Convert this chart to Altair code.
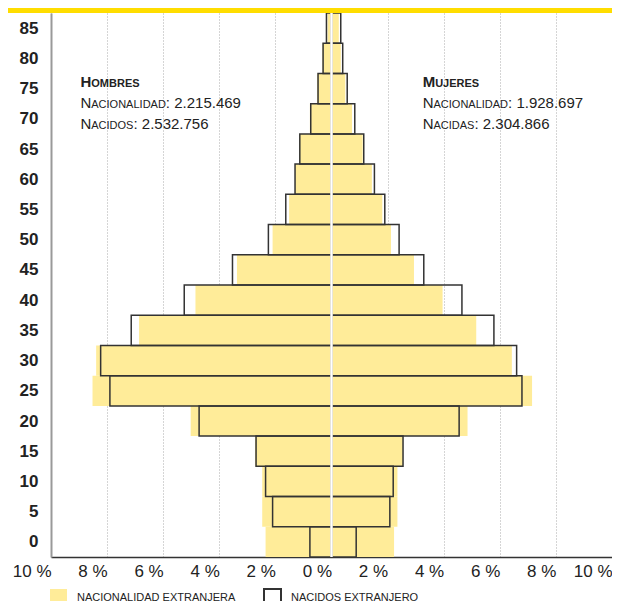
import altair as alt
import pandas as pd

# ---------------- data ----------------
ages = [0, 5, 10, 15, 20, 25, 30, 35, 40, 45, 50, 55, 60, 65, 70, 75, 80, 85]
hombres_nacionalidad = [2.35, 2.47, 2.47, 2.72, 5.02, 8.52, 8.39, 6.86, 4.85, 3.37, 2.10, 1.51, 1.30, 1.15, 0.77, 0.51, 0.32, 0.14]
hombres_nacidos = [0.77, 2.10, 2.35, 2.69, 4.72, 7.90, 8.23, 7.14, 5.25, 3.53, 2.25, 1.63, 1.30, 1.13, 0.74, 0.48, 0.30, 0.18]
mujeres_nacionalidad = [2.23, 2.35, 2.35, 2.55, 4.85, 7.15, 6.43, 5.16, 3.96, 2.94, 2.12, 1.81, 1.44, 1.11, 0.73, 0.49, 0.33, 0.26]
mujeres_nacidas = [0.88, 2.08, 2.20, 2.55, 4.55, 6.79, 6.60, 5.79, 4.65, 3.29, 2.41, 1.90, 1.53, 1.15, 0.83, 0.56, 0.40, 0.33]
series = ["Nacionalidad extranjera", "Nacidos extranjero"]
x_ticks = [-10, -8, -6, -4, -2, 0, 2, 4, 6, 8, 10]

# annotation text (small caps split as: capital, small part, rest)
hombres_text = [("H", "OMBRES", ""), ("N", "ACIONALIDAD", ": 2.215.469"), ("N", "ACIDOS", ": 2.532.756")]
mujeres_text = [("M", "UJERES", ""), ("N", "ACIONALIDAD", ": 1.928.697"), ("N", "ACIDAS", ": 2.304.866")]

# ---------------- layout ----------------
W, H = 561, 544
FONT = "Liberation Sans"
YELLOW = "#FFEC99"
px_per_unit = W / 20.0

rows = []
for i, a in enumerate(ages):
    rows.append(dict(age=a, serie=series[0], x0=-hombres_nacionalidad[i], x1=0))
    rows.append(dict(age=a, serie=series[0], x0=0, x1=mujeres_nacionalidad[i]))
for i, a in enumerate(ages):
    rows.append(dict(age=a, serie=series[1], x0=-hombres_nacidos[i], x1=0))
    rows.append(dict(age=a, serie=series[1], x0=0, x1=mujeres_nacidas[i]))
df = pd.DataFrame(rows)

# Arial/Liberation metrics (per 1000 em) for building small caps
REG = {"H": 722, "O": 778, "M": 833, "B": 667, "R": 722, "E": 667, "S": 667, "N": 722,
       "A": 667, "C": 722, "I": 278, "L": 556, "D": 722, "U": 722, "J": 500,
       ":": 278, " ": 278, ".": 278}
BOLD = dict(REG, B=722, J=556, A=722, L=611)
for d in "0123456789":
    REG[d] = 556
    BOLD[d] = 556


def tw(s, size, bold):
    tab = BOLD if bold else REG
    return sum(tab[c] for c in s) * size / 1000.0


BIG, SMALL = 15, 11
line_y = [75.2, 71.8, 68.3]
ann = []
for x0, block in [(-8.95, hombres_text), (3.25, mujeres_text)]:
    for li, (cap, small, rest) in enumerate(block):
        bold = li == 0
        off = 0.0
        for txt, sz in [(cap, BIG), (small, SMALL), (rest, BIG)]:
            if txt:
                ann.append(dict(x=x0 + off / px_per_unit, y=line_y[li], t=txt, s=sz,
                                w="bold" if bold else "normal"))
                off += tw(txt, sz, bold)
ann = pd.DataFrame(ann)

xscale = alt.Scale(domain=[-10, 10], nice=False, zero=False)
yscale = alt.Scale(domain=[-2.5, 87.5], nice=False, zero=False)

xaxis = alt.Axis(values=x_ticks, labelExpr="abs(datum.value) + ' %'",
                 labelAlign="right", labelFlush=False, labelOverlap=False,
                 labelFontSize=17, labelColor="#222", labelPadding=6,
                 ticks=False, domainColor="#333", domainWidth=1.5,
                 grid=True, gridDash=[1, 2], gridColor="#aaa", gridWidth=1,
                 title=None)
yaxis = alt.Axis(values=ages, labelFontSize=17, labelFontWeight="bold",
                 labelColor="#222", labelPadding=13, ticks=False,
                 domainColor="#999", domainWidth=2, grid=False,
                 labelOverlap=False, labelFlush=False, title=None)

bars = alt.Chart(df).transform_calculate(
    ylo="datum.age - 2.5", yhi="datum.age + 2.5"
).mark_rect(strokeWidth=1.5).encode(
    x=alt.X("x0:Q", scale=xscale, axis=xaxis),
    x2="x1:Q",
    y=alt.Y("ylo:Q", scale=yscale, axis=yaxis),
    y2="yhi:Q",
    fill=alt.Fill("serie:N",
                  scale=alt.Scale(domain=series, range=[YELLOW, "transparent"]),
                  legend=alt.Legend(orient="none", legendX=-2, legendY=575,
                                    direction="horizontal", title=None,
                                    symbolType="square", symbolSize=289,
                                    symbolStrokeWidth=2, labelFontSize=11,
                                    labelColor="#222", labelOffset=9, labelLimit=400,
                                    labelExpr="upper(datum.label)",
                                    columnPadding=24, padding=0)),
    stroke=alt.Stroke("serie:N",
                      scale=alt.Scale(domain=series, range=["transparent", "#333"])),
)

center = alt.Chart(pd.DataFrame({"v": [0]})).mark_rule(color="white", strokeWidth=2.5).encode(
    x=alt.X("v:Q", scale=xscale, axis=xaxis), y=alt.value(0), y2=alt.value(H)
)

band = alt.Chart(pd.DataFrame({"v": [0]})).mark_rect(color="#FFDD00").encode(
    x=alt.value(-60), x2=alt.value(W + 10), y=alt.value(-20), y2=alt.value(0)
)

txt_bold = alt.Chart(ann[ann.w == "bold"]).mark_text(
    align="left", baseline="alphabetic", fontWeight="bold", color="#222"
).encode(x=alt.X("x:Q", scale=xscale, axis=xaxis), y=alt.Y("y:Q", scale=yscale, axis=yaxis),
         text="t:N", size=alt.Size("s:Q", scale=None))

txt_reg = alt.Chart(ann[ann.w == "normal"]).mark_text(
    align="left", baseline="alphabetic", color="#222"
).encode(x=alt.X("x:Q", scale=xscale, axis=xaxis), y=alt.Y("y:Q", scale=yscale, axis=yaxis),
         text="t:N", size=alt.Size("s:Q", scale=None))

chart = alt.layer(bars, center, txt_bold, txt_reg, band).properties(
    width=W, height=H,
    autosize=alt.AutoSizeParams(type="none"),
    padding={"left": 43, "top": 5, "right": 0, "bottom": 44},
).configure(font=FONT).configure_view(stroke=None)

chart.save("out.html", embed_options={"renderer": "svg", "actions": False})
